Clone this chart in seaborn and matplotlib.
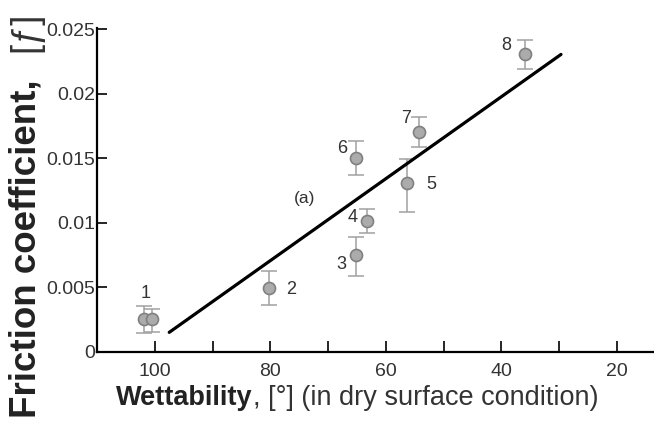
import matplotlib
matplotlib.use("Agg")
import matplotlib.pyplot as plt
import seaborn as sns
import pandas as pd
from matplotlib import font_manager
from matplotlib.ticker import MultipleLocator, FixedLocator, FuncFormatter

# ---- data ----
point_ids = ["1", "", "2", "3", "4", "5", "6", "7", "8"]
wettability = [101.8, 100.4, 80.3, 65.2, 63.2, 56.3, 65.1, 54.3, 36.0]
friction = [0.00253, 0.00253, 0.00496, 0.0075, 0.0101, 0.01305, 0.0150, 0.0170, 0.02305]
err_low = [0.0011, 0.0010, 0.00134, 0.0016, 0.0009, 0.0022, 0.0013, 0.0011, 0.0011]
err_high = [0.0010, 0.0008, 0.0013, 0.0014, 0.0010, 0.0019, 0.0013, 0.0012, 0.0011]
fit_x = [97.5, 29.7]
fit_y = [0.0015, 0.02305]
x_ticks = [100, 80, 60, 40, 20]
y_ticks = [0, 0.005, 0.01, 0.015, 0.02, 0.025]
note_text = "(a)"
note_pos = (74.0, 0.0119)

# label offsets in pixels (style)
label_offsets = [(1, 26), (0, 0), (23, -2), (-15, -10), (-15, 4), (24, -1), (-14, 10), (-13, 14), (-18, 9)]

sns.set_style("white")
installed = {f.name for f in font_manager.fontManager.ttflist}
fam = "Liberation Sans Narrow" if "Liberation Sans Narrow" in installed else "Liberation Sans"
plt.rcParams["font.family"] = [fam, "DejaVu Sans"]

df = pd.DataFrame({"w": wettability, "f": friction})
fit_df = pd.DataFrame({"w": fit_x, "f": fit_y})

fig = plt.figure(figsize=(6.54, 4.24), dpi=100)
ax = fig.add_axes([0.1483, 0.1705, 0.85, 0.7635])

ax.errorbar(wettability, friction, yerr=[err_low, err_high], fmt="none",
            ecolor="#a0a0a0", elinewidth=1.1, capsize=6, capthick=1.1, zorder=2)
sns.lineplot(data=fit_df, x="w", y="f", color="black", linewidth=2.3, ax=ax, zorder=3)
sns.scatterplot(data=df, x="w", y="f", s=75, color="#ababab", edgecolor="#808080",
                linewidth=1.2, ax=ax, zorder=4)

for pid, xv, yv, off in zip(point_ids, wettability, friction, label_offsets):
    if pid:
        ax.annotate(pid, (xv, yv), xytext=off, textcoords="offset pixels",
                    ha="center", va="center", fontsize=13, color="#333333")
ax.text(note_pos[0], note_pos[1], note_text, ha="center", va="center", fontsize=12.5, color="#333333")

ax.set_xlim(110, 13.8)
ax.set_ylim(0, 0.0251)
ax.xaxis.set_major_locator(FixedLocator(x_ticks))
ax.xaxis.set_minor_locator(MultipleLocator(10))
ax.yaxis.set_major_locator(FixedLocator(y_ticks))
ax.yaxis.set_major_formatter(FuncFormatter(lambda v, p: "0" if v == 0 else f"{v:g}"))

for s in ["top", "right"]:
    ax.spines[s].set_visible(False)
for s in ["left", "bottom"]:
    ax.spines[s].set_linewidth(1.6)
    ax.spines[s].set_color("black")

ax.tick_params(axis="x", which="both", direction="in", length=8, width=1.2,
               labelsize=14, pad=8, colors="black", labelcolor="#333333", bottom=True)
ax.tick_params(axis="y", which="both", direction="in", length=7, width=1.2,
               labelsize=14, pad=1, colors="black", labelcolor="#333333", left=True)
ax.set_xlabel("")
ax.set_ylabel("")

# x label with bold first word
xl1 = fig.text(116 / 654, 1 - 398 / 424, "Wettability", fontsize=19.5, fontweight="bold",
               ha="left", va="center", color="#222222")
fig.canvas.draw()
bb = xl1.get_window_extent()
fig.text(bb.x1 / 654, 1 - 398 / 424, ", [°] (in dry surface condition)", fontsize=19.5,
         ha="left", va="center", color="#333333")

# y label with bold main part
fig.text(26 / 654, 1 - 418 / 424, "Friction coefficient,", fontsize=26.5, fontweight="bold",
         rotation=90, ha="center", va="bottom", color="#222222")
fig.text(26 / 654, 1 - 12 / 424, "[ƒ]", fontsize=26, rotation=90,
         ha="center", va="top", color="#333333")

fig.savefig("out.png", dpi=100)
